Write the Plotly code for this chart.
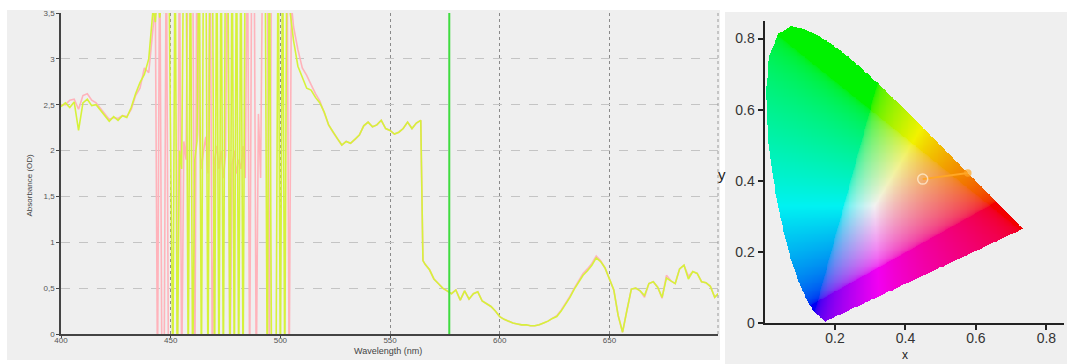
import numpy as np
import plotly.graph_objects as go

# ---------------- spectrum data ----------------
wl_low = [400, 402, 404, 406, 408, 410, 412, 414, 416, 418, 420, 422, 424, 426, 428, 430, 432, 434, 436, 438, 440]
green_low = [2.48, 2.52, 2.47, 2.53, 2.22, 2.52, 2.56, 2.49, 2.50, 2.44, 2.38, 2.32, 2.37, 2.33, 2.38, 2.36, 2.47, 2.62, 2.74, 2.83, 3.00]
pink_low = [2.50, 2.50, 2.55, 2.56, 2.45, 2.60, 2.62, 2.55, 2.52, 2.46, 2.40, 2.34, 2.36, 2.35, 2.38, 2.37, 2.45, 2.60, 2.68, 2.90, 2.85]

wl_noisy = list(range(441, 506))
green_noisy = [3.25, 3.55, 3.40, 3.75, 3.45, 3.65, 3.50, 3.80, 4.50, 1.90,
               -0.50, 4.50, -0.50, 2.00, 1.80, 4.50, 4.50, -0.50, 4.50, -0.50,
               1.90, 2.10, 4.50, -0.50, 4.50, 4.50, -0.50, 4.50, 4.50, -0.50,
               4.50, -0.50, 4.50, -0.50, 4.50, 4.50, -0.50, 4.50, -0.50, 4.50,
               -0.50, 4.50, -0.50, 4.50, 4.50, 4.50, 4.50, 4.50, 4.50, 4.50,
               4.50, 4.50, 4.50, -0.50, 4.50, -0.50, -0.50, -0.50, 4.50, -0.50,
               4.50, -0.50, 4.50, 3.60, 3.40]
pink_noisy = [3.10, 3.35, 3.60, -0.50, 4.50, -0.50, -0.50, 4.50, -0.50, -0.50,
              -0.50, -0.50, -0.50, 4.50, -0.50, 2.10, 1.90, 4.50, 4.50, 4.50,
              -0.50, 4.50, 2.20, 1.80, 2.00, 2.15, 1.75, 4.50, -0.50, 1.90,
              2.05, 1.80, 2.00, 1.70, 1.95, 4.50, -0.50, 1.85, 2.00, 1.75,
              1.90, 1.80, 2.05, 1.70, 4.50, -0.50, 4.50, 4.50, -0.50, 2.40,
              1.70, 4.50, 4.50, 4.50, -0.50, 4.50, 4.50, 4.50, 4.50, 4.50,
              4.50, 4.50, 4.50, -0.50, 3.60]

wl_high = [506, 508, 510, 512, 514, 516, 518, 520, 522, 524, 526, 528, 530, 532, 534, 536, 538, 540,
           542, 544, 546, 548, 550, 552, 554, 556, 558, 560, 562, 564, 565, 566, 568, 570, 572, 574,
           576, 578, 580, 582, 584, 586, 588, 590, 592, 594, 596, 598, 600, 602, 604, 606, 608, 610,
           612, 614, 616, 618, 620, 622, 624, 626, 628, 630, 632, 634, 636, 638, 640, 642, 644, 646,
           648, 650, 652, 654, 656, 658, 660, 662, 664, 666, 668, 670, 672, 674, 676, 678, 680, 682,
           684, 686, 688, 690, 692, 694, 696, 698, 700]
green_high = [3.20, 2.92, 2.80, 2.68, 2.66, 2.58, 2.52, 2.42, 2.28, 2.20, 2.13, 2.06, 2.10, 2.08, 2.12, 2.17, 2.27, 2.31,
              2.26, 2.28, 2.33, 2.24, 2.22, 2.18, 2.20, 2.24, 2.31, 2.24, 2.30, 2.33, 0.80, 0.76, 0.70, 0.60, 0.55, 0.50,
              0.47, 0.44, 0.48, 0.37, 0.47, 0.38, 0.44, 0.46, 0.36, 0.33, 0.30, 0.25, 0.19, 0.16, 0.14, 0.12, 0.11, 0.10,
              0.10, 0.09, 0.09, 0.10, 0.12, 0.14, 0.17, 0.19, 0.25, 0.32, 0.40, 0.49, 0.56, 0.64, 0.69, 0.75, 0.83, 0.79,
              0.72, 0.61, 0.48, 0.20, 0.02, 0.26, 0.49, 0.50, 0.47, 0.42, 0.55, 0.57, 0.51, 0.40, 0.61, 0.58, 0.55, 0.71,
              0.75, 0.60, 0.68, 0.66, 0.57, 0.56, 0.52, 0.40, 0.45]
pink_high = [3.35, 3.10, 2.90, 2.82, 2.72, 2.62, 2.54, 2.42, 2.28, 2.20, 2.13, 2.06, 2.10, 2.08, 2.12, 2.17, 2.27, 2.31,
             2.26, 2.28, 2.33, 2.24, 2.22, 2.18, 2.20, 2.24, 2.31, 2.24, 2.30, 2.33, 0.80, 0.76, 0.70, 0.60, 0.55, 0.50,
             0.47, 0.44, 0.48, 0.37, 0.47, 0.38, 0.44, 0.46, 0.36, 0.33, 0.30, 0.25, 0.19, 0.16, 0.14, 0.12, 0.11, 0.10,
             0.10, 0.09, 0.09, 0.10, 0.12, 0.14, 0.17, 0.20, 0.26, 0.33, 0.41, 0.50, 0.58, 0.66, 0.71, 0.77, 0.85, 0.80,
             0.72, 0.61, 0.48, 0.20, 0.02, 0.26, 0.49, 0.50, 0.47, 0.40, 0.55, 0.57, 0.51, 0.39, 0.64, 0.58, 0.55, 0.71,
             0.75, 0.63, 0.68, 0.66, 0.57, 0.56, 0.52, 0.40, 0.45]

cursor_wavelength = 577
y_tickvals = [0, 0.5, 1, 1.5, 2, 2.5, 3, 3.5]
y_ticktext = ["0", "0,5", "1", "1,5", "2", "2,5", "3", "3,5"]
x_tickvals = [400, 450, 500, 550, 600, 650]

# ---------------- chromaticity data ----------------
locus_x = [0.1741, 0.1740, 0.1738, 0.1736, 0.1733, 0.1730, 0.1726, 0.1721, 0.1714, 0.1703, 0.1689, 0.1669,
           0.1644, 0.1611, 0.1566, 0.1510, 0.1440, 0.1355, 0.1241, 0.1096, 0.0913, 0.0687, 0.0454, 0.0235,
           0.0082, 0.0039, 0.0139, 0.0389, 0.0743, 0.1142, 0.1547, 0.1929, 0.2296, 0.2658, 0.3016, 0.3373,
           0.3731, 0.4087, 0.4441, 0.4788, 0.5125, 0.5448, 0.5752, 0.6029, 0.6270, 0.6482, 0.6658, 0.6801,
           0.6915, 0.7006, 0.7079, 0.7140, 0.7190, 0.7230, 0.7260, 0.7283, 0.7300, 0.7311, 0.7320, 0.7327,
           0.7334, 0.7340, 0.7344, 0.7346, 0.7347]
locus_y = [0.0050, 0.0050, 0.0049, 0.0049, 0.0048, 0.0048, 0.0048, 0.0048, 0.0051, 0.0058, 0.0069, 0.0086,
           0.0109, 0.0138, 0.0177, 0.0227, 0.0297, 0.0399, 0.0578, 0.0868, 0.1327, 0.2007, 0.2950, 0.4127,
           0.5384, 0.6548, 0.7502, 0.8120, 0.8338, 0.8262, 0.8059, 0.7816, 0.7543, 0.7243, 0.6923, 0.6589,
           0.6245, 0.5896, 0.5547, 0.5202, 0.4866, 0.4544, 0.4242, 0.3965, 0.3725, 0.3514, 0.3340, 0.3197,
           0.3083, 0.2993, 0.2920, 0.2859, 0.2809, 0.2770, 0.2740, 0.2717, 0.2700, 0.2689, 0.2680, 0.2673,
           0.2666, 0.2660, 0.2656, 0.2654, 0.2653]
chroma_x = [0.449, 0.577]
chroma_y = [0.405, 0.422]

# ---------------- build gamut image ----------------
step = 0.0025
gx = np.arange(0, 0.75 + step, step)
gy = np.arange(0, 0.85 + step, step)
GX, GY = np.meshgrid(gx, gy)


def inside_poly(px, py, vx, vy):
    res = np.zeros(px.shape, bool)
    n = len(vx)
    j = n - 1
    for i in range(n):
        xi, yi, xj, yj = vx[i], vy[i], vx[j], vy[j]
        if yi != yj:
            cond = ((yi > py) != (yj > py)) & (px < (xj - xi) * (py - yi) / (yj - yi) + xi)
            res ^= cond
        j = i
    return res


mask = inside_poly(GX, GY, locus_x, locus_y)
yy = np.maximum(GY, 1e-4)
Xc = GX / yy
Zc = (1 - GX - GY) / yy
R = 3.2406 * Xc - 1.5372 - 0.4986 * Zc
G = -0.9689 * Xc + 1.8758 + 0.0415 * Zc
B = 0.0557 * Xc - 0.2040 + 1.0570 * Zc
rgb = np.clip(np.stack([R, G, B], -1), 0, None)
rgb = rgb / np.maximum(rgb.max(-1, keepdims=True), 1e-9)
rgb = np.power(rgb, 1 / 2.6)
rgb = rgb * 0.95
img = np.zeros(GX.shape + (4,), dtype=np.uint8)
img[..., :3] = np.clip(rgb * 255, 0, 255).astype(np.uint8)
img[..., 3] = np.where(mask, 255, 0)

# ---------------- figure ----------------
W, H = 1067, 364
fig = go.Figure()

fig.add_trace(go.Scatter(x=wl_low + wl_noisy + wl_high, y=pink_low + pink_noisy + pink_high,
                         mode="lines", line=dict(color="#ffb3bb", width=1.6),
                         xaxis="x", yaxis="y", showlegend=False, hoverinfo="skip"))
fig.add_trace(go.Scatter(x=wl_low + wl_noisy + wl_high, y=green_low + green_noisy + green_high,
                         mode="lines", line=dict(color="#d6f23a", width=1.6),
                         xaxis="x", yaxis="y", showlegend=False, hoverinfo="skip"))

fig.add_trace(go.Image(z=img, colormodel="rgba", zmin=[0, 0, 0, 0], zmax=[255, 255, 255, 255],
                       x0=gx[0], dx=step, y0=gy[0], dy=step, xaxis="x2", yaxis="y2", hoverinfo="skip"))
fig.add_trace(go.Scatter(x=chroma_x, y=chroma_y, mode="lines+markers",
                         line=dict(color="#ffa726", width=2),
                         marker=dict(symbol=["circle-open", "circle"], size=[10, 6],
                                     color=["#fff3dd", "#ffa726"], line=dict(width=1.5)),
                         xaxis="x2", yaxis="y2", showlegend=False, hoverinfo="skip"))

grey = "#efefef"
shapes = [
    dict(type="rect", xref="paper", yref="paper", x0=7 / W, x1=720 / W, y0=4 / H, y1=354 / H,
         fillcolor=grey, line=dict(width=0), layer="below"),
    dict(type="rect", xref="paper", yref="paper", x0=725 / W, x1=1.0, y0=0, y1=(H - 12) / H,
         fillcolor=grey, line=dict(width=0), layer="below"),
    dict(type="line", xref="x domain", yref="y domain", x0=1, x1=1, y0=0, y1=1,
         line=dict(color="#9a9a9a", width=1, dash="dot")),
    dict(type="line", xref="x", yref="y domain", x0=cursor_wavelength, x1=cursor_wavelength, y0=0, y1=1,
         line=dict(color="#3fdc3f", width=2)),
]

tickfont_small = dict(family="Liberation Sans, Arial", size=8, color="#555")
fig.update_layout(
    width=W, height=H, margin=dict(l=0, r=0, t=0, b=0, pad=0, autoexpand=False),
    paper_bgcolor="white", plot_bgcolor="rgba(0,0,0,0)",
    shapes=shapes, showlegend=False,
    xaxis=dict(domain=[61 / W, 718 / W], range=[400, 699.5], tickvals=x_tickvals, automargin=False,
               showgrid=True, gridcolor="#8a8a8a", griddash="dot", gridwidth=1,
               showline=True, linecolor="#444", linewidth=1.5, ticks="outside", ticklen=2,
               ticklabelstandoff=-4,
               tickcolor="#444", tickfont=tickfont_small, zeroline=False, anchor="y"),
    yaxis=dict(domain=[30 / H, 351 / H], range=[0, 3.5], tickvals=y_tickvals, ticktext=y_ticktext,
               automargin=False,
               showgrid=True, gridcolor="#c4c4c4", griddash="dash", gridwidth=1,
               showline=True, linecolor="#444", linewidth=1.5, ticks="outside", ticklen=3,
               tickcolor="#444", tickfont=tickfont_small, zeroline=False, anchor="x"),
    xaxis2=dict(domain=[764.5 / W, 1064 / W], range=[0, 0.85], tickvals=[0.2, 0.4, 0.6, 0.8],
                ticktext=["0.2", "0.4", "0.6", "0.8"], automargin=False, ticklabelstandoff=-4,
                showgrid=False, showline=True, linecolor="#222", linewidth=2, ticks="outside",
                ticklen=5, tickwidth=2, tickcolor="#222", zeroline=False, anchor="y2",
                tickfont=dict(family="Liberation Sans, Arial", size=14, color="#333")),
    yaxis2=dict(domain=[40.7 / H, 343.3 / H], range=[0, 0.85], tickvals=[0, 0.2, 0.4, 0.6, 0.8],
                ticktext=["0", "0.2", "0.4", "0.6", "0.8"], scaleanchor=False, automargin=False,
                showgrid=False, showline=True, linecolor="#222", linewidth=2, ticks="outside",
                ticklen=5, tickwidth=2, tickcolor="#222", zeroline=False, anchor="x2",
                tickfont=dict(family="Liberation Sans, Arial", size=14, color="#333")),
    annotations=[
        dict(text="Absorbance (OD)", xref="paper", yref="paper", x=22 / W, y=(H - 185) / H,
             textangle=-90, showarrow=False, font=dict(family="Liberation Sans, Arial", size=8, color="#444")),
        dict(text="Wavelength (nm)", xref="paper", yref="paper", x=388 / W, y=(H - 358) / H,
             showarrow=False, font=dict(family="Liberation Sans, Arial", size=9, color="#444")),
        dict(text="y", xref="paper", yref="paper", x=728 / W, y=(H - 175) / H,
             showarrow=False, font=dict(family="Liberation Sans, Arial", size=15, color="#222")),
        dict(text="x", xref="paper", yref="paper", x=910 / W, y=0, yanchor="bottom",
             showarrow=False, font=dict(family="Liberation Sans, Arial", size=12, color="#222")),
    ],
)

fig.write_html("out.html", config={"displayModeBar": False},
               post_script="document.body.style.margin='0';document.body.style.overflow='hidden';")
